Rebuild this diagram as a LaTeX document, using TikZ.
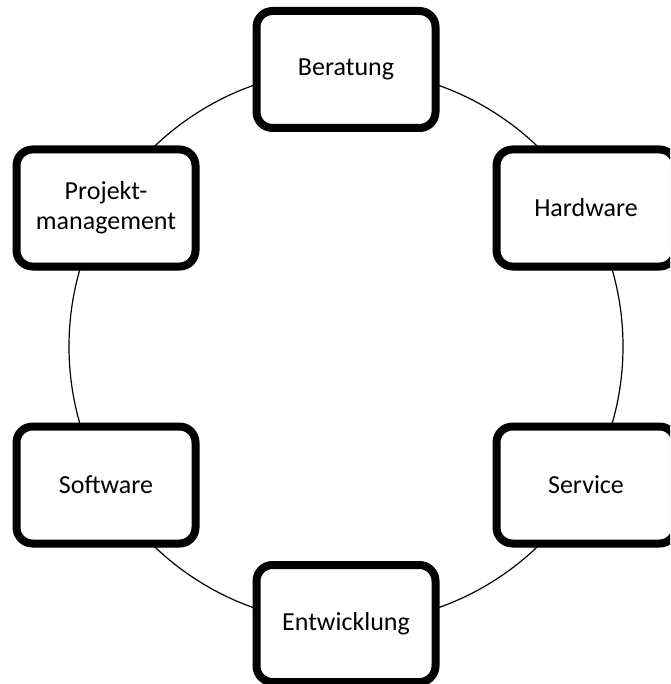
\documentclass[tikz,border=0pt]{standalone}
\usepackage{fontspec}
\setmainfont{Carlito}
\usetikzlibrary{shadows}
\tikzset{
  box/.style={draw=black, line width=8pt, rounded corners=16pt, fill=white,
    minimum width=179pt, minimum height=117pt, inner sep=0pt, align=center,
    font=\fontsize{26}{30}\selectfont,
    drop shadow={opacity=0.35, shadow xshift=2pt, shadow yshift=-4pt}},
  ring/.style={draw=black, line width=1.2pt}
}
\begin{document}
\begin{tikzpicture}[x=1pt,y=-1pt]
\useasboundingbox (0,0) rectangle (670,684);
\clip (0,0) rectangle (670,684);
\fill[white] (0,0) rectangle (670,684);
\coordinate (c) at (346,346.5);
\draw[ring] (c) circle[radius=277pt];
\node[box] (ber) at (346,69.5) {Beratung};
\node[box] (hw) at (586,208) {Hardware};
\node[box] (srv) at (586,485) {Service};
\node[box] (ent) at (346,623.5) {Entwicklung};
\node[box] (sw) at (106,485) {Software};
\node[box] (pm) at (106,208) {Projekt-\\management};
\end{tikzpicture}
\end{document}
